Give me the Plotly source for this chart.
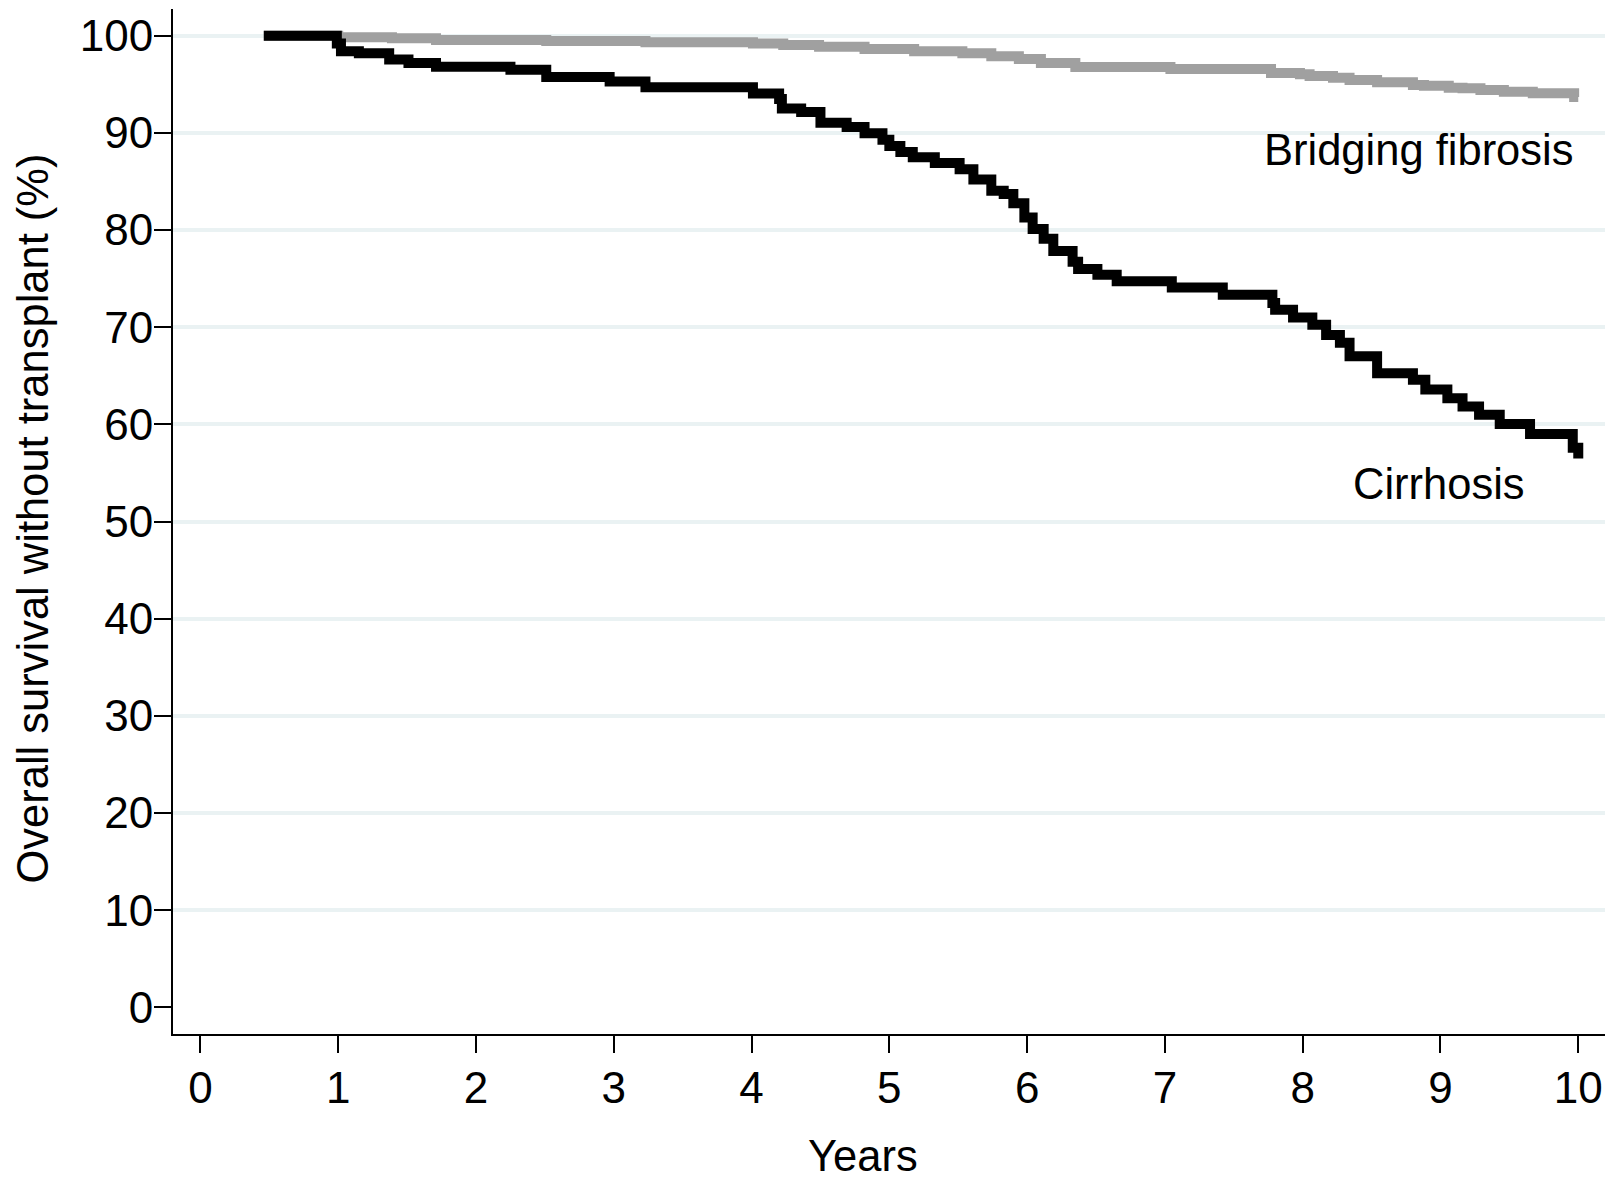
import plotly.graph_objects as go

# Kaplan-Meier estimates: overall survival without transplant (%) by fibrosis stage
cirrhosis_years = [0.46, 0.99, 1.02, 1.15, 1.37, 1.51, 1.71, 2.25, 2.51, 2.97, 3.23,
                   4.01, 4.20, 4.22, 4.36, 4.50, 4.69, 4.82, 4.95, 5.00, 5.08, 5.17,
                   5.33, 5.51, 5.61, 5.74, 5.83, 5.90, 5.98, 6.04, 6.12, 6.19, 6.33,
                   6.37, 6.51, 6.65, 7.05, 7.42, 7.78, 7.80, 7.93, 8.07, 8.17, 8.27,
                   8.34, 8.54, 8.80, 8.89, 9.05, 9.16, 9.28, 9.43, 9.65, 9.96, 10.00]
cirrhosis_surv = [100.0, 99.2, 98.4, 98.2, 97.55, 97.2, 96.8, 96.5, 95.75, 95.3, 94.7,
                  94.05, 93.5, 92.5, 92.15, 91.05, 90.6, 89.96, 89.3, 88.65, 88.03, 87.5,
                  86.9, 86.25, 85.2, 84.05, 83.7, 82.75, 81.3, 80.1, 79.1, 77.85, 76.75,
                  76.0, 75.4, 74.73, 74.1, 73.35, 72.5, 71.8, 71.0, 70.25, 69.2, 68.4,
                  67.0, 65.27, 64.6, 63.6, 62.7, 61.83, 61.0, 60.05, 59.0, 57.6, 56.5]

bridging_years = [0.46, 1.00, 1.39, 1.71, 2.51, 3.23, 4.01, 4.23, 4.49, 4.82, 5.18,
                  5.53, 5.74, 5.94, 6.10, 6.35, 7.04, 7.77, 7.98, 8.05, 8.22, 8.34,
                  8.54, 8.80, 8.88, 9.06, 9.16, 9.29, 9.46, 9.67, 9.97, 10.00]
bridging_surv = [100.0, 99.83, 99.73, 99.56, 99.45, 99.32, 99.2, 99.04, 98.87, 98.63, 98.39,
                 98.19, 97.9, 97.6, 97.2, 96.78, 96.57, 96.16, 96.03, 95.85, 95.68, 95.44,
                 95.2, 94.93, 94.86, 94.65, 94.59, 94.41, 94.24, 94.07, 93.7, 93.7]

x_ticks = list(range(0, 11))
y_ticks = list(range(0, 101, 10))
grid_levels = list(range(10, 101, 10))

FONT = "Liberation Sans, Arial, Helvetica, sans-serif"
TEXT_SIZE = 43.5
TICK_SIZE = 44

fig = go.Figure()

fig.add_trace(go.Scatter(
    x=bridging_years, y=bridging_surv, mode="lines", line_shape="hv",
    line=dict(color="#A0A0A0", width=10), name="Bridging fibrosis",
    showlegend=False, yaxis="y"))
fig.add_trace(go.Scatter(
    x=cirrhosis_years, y=cirrhosis_surv, mode="lines", line_shape="hv",
    line=dict(color="#000000", width=10), name="Cirrhosis",
    showlegend=False, yaxis="y"))

fig.update_layout(
    width=1622, height=1180,
    margin=dict(l=173, r=17, t=9, b=146),
    paper_bgcolor="white", plot_bgcolor="white",
    font=dict(family=FONT, size=TEXT_SIZE, color="black"),
    xaxis=dict(
        range=[-0.199, 10.194], tickvals=x_ticks, ticktext=[str(v) for v in x_ticks],
        showgrid=False, zeroline=False,
        showline=True, linecolor="black", linewidth=2,
        ticks="outside", ticklen=17, tickwidth=2, tickcolor="black",
        tickfont=dict(size=TICK_SIZE), ticklabelstandoff=-3,
    ),
    yaxis=dict(
        range=[-2.74, 102.75], tickvals=y_ticks, ticktext=[str(v) for v in y_ticks],
        showgrid=False, zeroline=False,
        showline=True, linecolor="black", linewidth=2,
        ticks="outside", ticklen=17, tickwidth=2, tickcolor="black",
        tickfont=dict(size=TICK_SIZE), ticklabelstandoff=-8,
    ),
    # overlay axis carrying only the horizontal gridlines
    yaxis2=dict(
        range=[-2.74, 102.75], overlaying="y", tickvals=grid_levels,
        showticklabels=False, ticks="", showline=False, zeroline=False,
        showgrid=True, gridcolor="#EAF2F3", gridwidth=3.5, layer="below traces",
    ),
)

# an invisible trace so the gridline axis is drawn
fig.add_trace(go.Scatter(x=[0], y=[0], yaxis="y2", mode="markers",
                         marker=dict(opacity=0), showlegend=False, hoverinfo="skip"))

fig.add_annotation(x=8.84, y=88.24, xref="x", yref="y", text="Bridging fibrosis",
                   showarrow=False, font=dict(size=TEXT_SIZE), xanchor="center", yanchor="middle")
fig.add_annotation(x=8.99, y=53.9, xref="x", yref="y", text="Cirrhosis",
                   showarrow=False, font=dict(size=TEXT_SIZE), xanchor="center", yanchor="middle")

fig.add_annotation(x=0.482, y=-0.1187, xref="paper", yref="paper", text="Years",
                   showarrow=False, font=dict(size=TEXT_SIZE), xanchor="center", yanchor="middle")
fig.add_annotation(x=-0.0978, y=0.5028, xref="paper", yref="paper",
                   text="Overall survival without transplant (%)", textangle=-90,
                   showarrow=False, font=dict(size=TEXT_SIZE), xanchor="center", yanchor="middle")

fig.write_html("out.html")
